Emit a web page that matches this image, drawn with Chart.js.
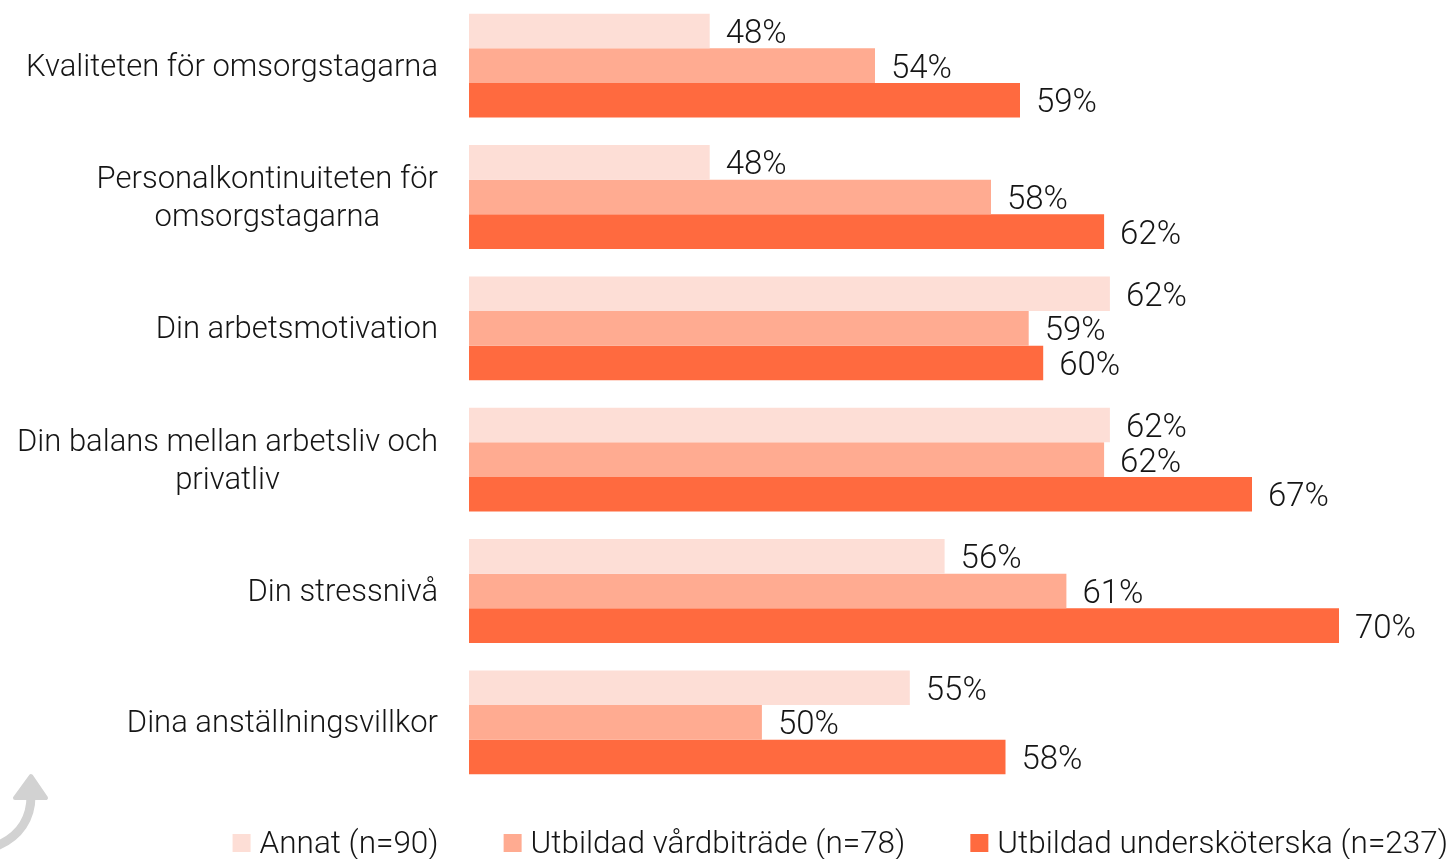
<!DOCTYPE html>
<html lang="sv">
<head>
<meta charset="UTF-8">
<title>Andel per yrkesgrupp</title>
<script src="https://cdn.jsdelivr.net/npm/chart.js"></script>
<style>
  html, body {
    margin: 0;
    padding: 0;
    background: #fff;
    overflow: hidden;
  }
  #wrap {
    position: relative;
    width: 1452px;
    height: 859px;
  }
</style>
</head>
<body>
<div id="wrap"><canvas id="chart"></canvas></div>
<script>
  const categories = [
    'Kvaliteten för omsorgstagarna',
    ['Personalkontinuiteten för', 'omsorgstagarna'],
    'Din arbetsmotivation',
    ['Din balans mellan arbetsliv och', 'privatliv'],
    'Din stressnivå',
    'Dina anställningsvillkor'
  ];
  const seriesNames = ['Annat (n=90)', 'Utbildad vårdbiträde (n=78)', 'Utbildad undersköterska (n=237)'];
  const seriesColors = ['#FDDED6', '#FFAB91', '#FF6A3F'];

  // bar lengths and the printed percentages
  const annat = [48.3, 48.3, 62.1, 62.1, 56.4, 55.2];
  const vardbitrade = [54.0, 58.0, 59.3, 61.9, 60.6, 50.1];
  const underskoterska = [59.0, 61.9, 59.8, 67.0, 70.0, 58.5];
  const annatText = [48, 48, 62, 62, 56, 55];
  const vardbitradeText = [54, 58, 59, 62, 61, 50];
  const underskoterskaText = [59, 62, 60, 67, 70, 58];

  const values = [annat, vardbitrade, underskoterska];
  const printed = [annatText, vardbitradeText, underskoterskaText];

  const FAMILY = 'Roboto, "Liberation Sans", sans-serif';
  const TEXT = '#151515';

  const labelsPlugin = {
    id: 'labels',
    afterDatasetsDraw(chart) {
      const ctx = chart.ctx;
      ctx.save();
      ctx.fillStyle = TEXT;

      // percent next to each bar
      ctx.font = '300 33px ' + FAMILY;
      ctx.textAlign = 'left';
      ctx.textBaseline = 'alphabetic';
      chart.data.datasets.forEach((ds, i) => {
        chart.getDatasetMeta(i).data.forEach((bar, j) => {
          ctx.fillText(printed[i][j] + '%', bar.x + 16, bar.y + 12);
        });
      });

      // category labels: block right aligned, lines centred
      ctx.font = '300 31px ' + FAMILY;
      const yScale = chart.scales.y;
      const right = chart.chartArea.left - 31;
      categories.forEach((cat, i) => {
        const lines = Array.isArray(cat) ? cat : [cat];
        const w = Math.max(...lines.map(l => ctx.measureText(l).width));
        const cy = yScale.getPixelForValue(i);
        ctx.textAlign = 'center';
        lines.forEach((l, k) => {
          ctx.fillText(l, right - w / 2, cy + 10 + (k - (lines.length - 1) / 2) * 38);
        });
      });

      // legend, right aligned at the bottom
      ctx.font = '300 31.5px ' + FAMILY;
      ctx.textAlign = 'left';
      let x = chart.width - 4;
      for (let i = seriesNames.length - 1; i >= 0; i--) {
        const tw = ctx.measureText(seriesNames[i]).width;
        const tx = x - tw;
        const bx = tx - 9 - 18;
        ctx.fillStyle = seriesColors[i];
        ctx.fillRect(bx, 834, 18, 18);
        ctx.fillStyle = TEXT;
        ctx.fillText(seriesNames[i], tx, 853);
        x = bx - 65;
      }

      // grey arrow in the corner
      ctx.strokeStyle = '#d2d2d2';
      ctx.fillStyle = '#d2d2d2';
      ctx.lineWidth = 9;
      ctx.beginPath();
      ctx.moveTo(31, 796);
      ctx.bezierCurveTo(31, 818, 20, 836, -3, 846);
      ctx.stroke();
      ctx.lineJoin = 'round';
      ctx.lineWidth = 4;
      ctx.beginPath();
      ctx.moveTo(31, 776);
      ctx.lineTo(46, 798);
      ctx.lineTo(15, 798);
      ctx.closePath();
      ctx.fill();
      ctx.stroke();

      ctx.restore();
    }
  };

  const chart = new Chart(document.getElementById('chart').getContext('2d'), {
    type: 'bar',
    data: {
      labels: categories,
      datasets: values.map((v, i) => ({
        label: seriesNames[i],
        data: v,
        backgroundColor: seriesColors[i],
        borderWidth: 0,
        categoryPercentage: 0.79,
        barPercentage: 1.0
      }))
    },
    options: {
      indexAxis: 'y',
      responsive: true,
      maintainAspectRatio: false,
      animation: false,
      layout: {
        padding: { left: 469, right: 26, top: 0, bottom: 71 }
      },
      scales: {
        x: { min: 40, max: 73, display: false },
        y: { display: false }
      },
      plugins: {
        legend: { display: false },
        tooltip: { enabled: false }
      }
    },
    plugins: [labelsPlugin]
  });
</script>
</body>
</html>
